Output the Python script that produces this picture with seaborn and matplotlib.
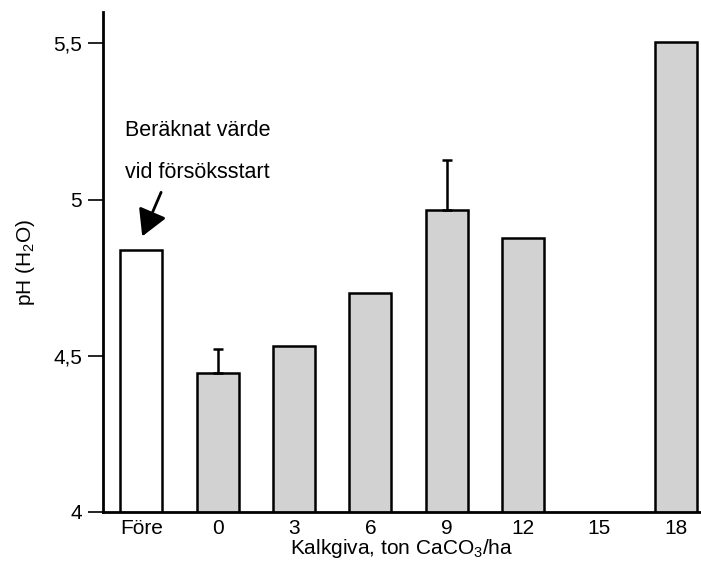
import numpy as np
import pandas as pd
import seaborn as sns
from matplotlib import pyplot as plt

sns.set_style("ticks")
plt.rcParams['font.family'] = ['Liberation Sans', 'DejaVu Sans']
plt.rcParams['mathtext.fontset'] = 'custom'
plt.rcParams['mathtext.rm'] = 'Liberation Sans'
plt.rcParams['mathtext.it'] = 'Liberation Sans:italic'
for k in ['text.color', 'axes.labelcolor', 'xtick.color', 'ytick.color', 'axes.edgecolor']:
    plt.rcParams[k] = 'black'

# ---------------- data
categories = ["Före", "0", "3", "6", "9", "12", "15", "18"]
ph_values = [4.84, 4.445, 4.53, 4.70, 4.968, 4.876, np.nan, 5.505]
err_labels = ["0", "9"]
err_up = [0.077, 0.16]
ytick_values = [4, 4.5, 5, 5.5]
ytick_labels = ["4", "4,5", "5", "5,5"]

df = pd.DataFrame({"kalk": categories, "ph": ph_values}).dropna()

# ---------------- plot
fh = plt.figure(figsize=(7.01, 5.64), dpi=100)
ah = fh.add_axes([0.147, 0.0922, 0.852, 0.8865])

pal = {c: ("white" if c == "Före" else "#d2d2d2") for c in categories}
sns.barplot(data=df, x="kalk", y="ph", hue="kalk", order=categories,
            palette=pal, legend=False, width=0.55, edgecolor="black",
            linewidth=1.8, ax=ah, errorbar=None)

# one-sided error bars
xpos = [categories.index(c) for c in err_labels]
ybar = [ph_values[i] for i in xpos]
ah.errorbar(xpos, ybar, yerr=[np.zeros(len(err_up)), err_up], fmt="none",
            ecolor="black", elinewidth=1.8, capsize=3.6, capthick=1.8, zorder=1)

ah.set_ylim(4, 5.6)
ah.set_xlim(-0.5, 7.32)
ah.set_yticks(ytick_values)
ah.set_yticklabels(ytick_labels)

sns.despine(ax=ah)
ah.spines["left"].set_linewidth(2)
ah.spines["bottom"].set_linewidth(2)
ah.tick_params(axis='y', length=11, width=1.2, direction='out', labelsize=15, pad=4)
ah.tick_params(axis='x', length=0, labelsize=15, pad=5)

ah.set_xlabel("Kalkgiva, ton CaCO$_3$/ha", fontsize=15, labelpad=-1)
ah.set_ylabel("pH (H$_2$O)", fontsize=15, labelpad=12)

ah.text(-0.21, 5.221, "Beräknat värde", fontsize=15.5, ha="left", va="center")
ah.text(-0.21, 5.087, "vid försöksstart", fontsize=15.5, ha="left", va="center")
ah.annotate("", xy=(0.013, 4.882), xytext=(0.26, 5.023),
            arrowprops=dict(arrowstyle="-|>,head_length=0.8,head_width=0.45",
                            mutation_scale=20, lw=2, color="black",
                            shrinkA=0, shrinkB=0))

fh.savefig("out.png", dpi=100)
